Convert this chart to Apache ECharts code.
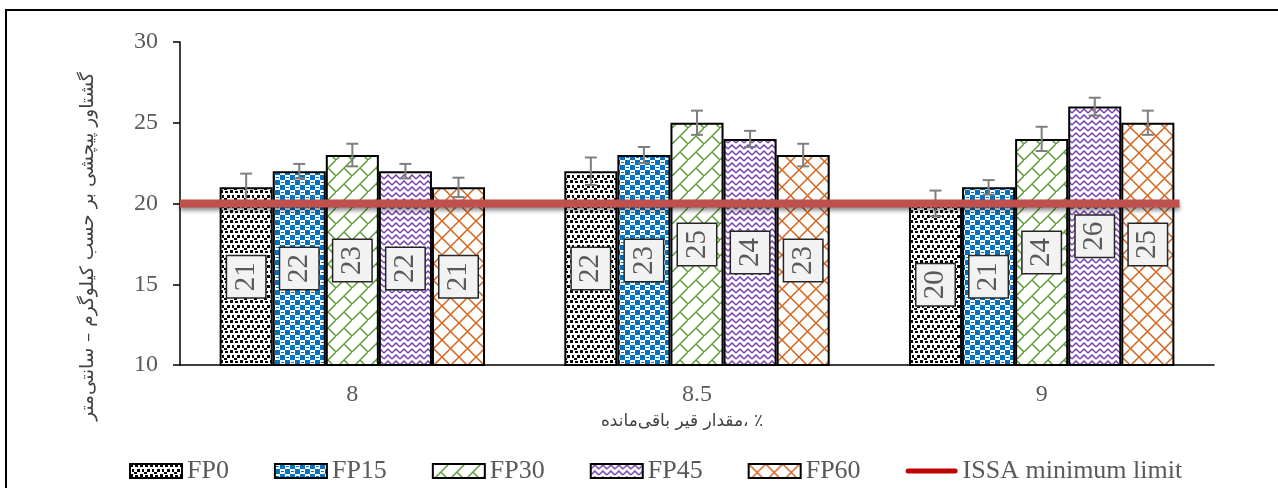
<!DOCTYPE html>
<html>
<head>
<meta charset="utf-8">
<script src="https://cdn.jsdelivr.net/npm/echarts@6/dist/echarts.min.js"></script>
<style>
  html, body { margin: 0; padding: 0; background: #fff; }
  #chart { width: 1278px; height: 488px; }
</style>
</head>
<body>
<div id="chart"></div>
<script>
// data
const categories = ["8", "8.5", "9"];
const seriesNames = ["FP0", "FP15", "FP30", "FP45", "FP60"];
const fp0 = [21, 22, 20];
const fp15 = [22, 23, 21];
const fp30 = [23, 25, 24];
const fp45 = [22, 24, 26];
const fp60 = [21, 23, 25];
const err0 = [0.85, 0.85, 0.8];
const err15 = [0.45, 0.5, 0.45];
const err30 = [0.7, 0.75, 0.75];
const err45 = [0.45, 0.5, 0.55];
const err60 = [0.6, 0.7, 0.75];
const limitName = "ISSA minimum limit";
const limitX = [0, 2.9];
const limitY = [20, 20];
const yTicks = [10, 15, 20, 25, 30];

const values = [fp0, fp15, fp30, fp45, fp60];
const errors = [err0, err15, err30, err45, err60];

const serif = "Liberation Serif";
const textGray = "#595959";
const gapRatio = 0.23;

function makePattern(w, h, draw) {
  const c = document.createElement("canvas");
  c.width = w;
  c.height = h;
  const ctx = c.getContext("2d");
  ctx.fillStyle = "#fff";
  ctx.fillRect(0, 0, w, h);
  draw(ctx);
  return { image: c, repeat: "repeat" };
}

const patterns = [
  // black confetti
  makePattern(10, 10, (ctx) => {
    ctx.fillStyle = "#000";
    [[0, 0, 3, 3], [5, 1, 3, 2], [2, 5, 2, 3], [7, 5, 3, 3], [4, 8, 3, 2]].forEach((r) =>
      ctx.fillRect(r[0], r[1], r[2], r[3])
    );
  }),
  // blue checker
  makePattern(10, 10, (ctx) => {
    ctx.fillStyle = "#0070c0";
    ctx.fillRect(0, 0, 10, 10);
    ctx.fillStyle = "#fff";
    ctx.fillRect(0, 0, 5, 5);
    ctx.fillRect(5, 5, 5, 5);
    ctx.fillStyle = "#0070c0";
    ctx.fillRect(1, 2, 3, 1);
    ctx.fillRect(6, 7, 3, 1);
  }),
  // green diagonal brick
  makePattern(16, 16, (ctx) => {
    ctx.strokeStyle = "#5e9c3a";
    ctx.lineWidth = 1.5;
    ctx.beginPath();
    ctx.moveTo(-1, 17);
    ctx.lineTo(17, -1);
    ctx.moveTo(8, 8);
    ctx.lineTo(17, 17);
    ctx.stroke();
  }),
  // purple zigzag
  makePattern(8, 6, (ctx) => {
    ctx.strokeStyle = "#7a3fb0";
    ctx.lineWidth = 1.5;
    ctx.beginPath();
    ctx.moveTo(0, 5);
    ctx.lineTo(4, 1);
    ctx.lineTo(8, 5);
    ctx.stroke();
  }),
  // orange lattice
  makePattern(17, 17, (ctx) => {
    ctx.strokeStyle = "#d4651e";
    ctx.lineWidth = 1.5;
    ctx.beginPath();
    ctx.moveTo(0, 0);
    ctx.lineTo(17, 17);
    ctx.moveTo(17, 0);
    ctx.lineTo(0, 17);
    ctx.stroke();
  }),
];

const myChart = echarts.init(document.getElementById("chart"));

const barSeries = seriesNames.map((name, i) => ({
  name: name,
  type: "bar",
  data: values[i],
  barGap: "0%",
  barCategoryGap: gapRatio * 100 + "%",
  itemStyle: {
    color: patterns[i],
    borderColor: "#000",
    borderWidth: 2,
  },
  label: {
    show: true,
    position: "inside",
    rotate: 90,
    fontFamily: serif,
    fontSize: 29,
    lineHeight: 24,
    color: textGray,
    backgroundColor: "#f2f2f2",
    borderColor: "#262626",
    borderWidth: 1.5,
    padding: [7, 6],
  },
  z: 2,
}));

const errorSeries = seriesNames.map((name, i) => ({
  type: "custom",
  name: name + " err",
  data: values[i].map((v, k) => [k, v, errors[i][k]]),
  encode: { x: 0, y: 1 },
  z: 5,
  silent: true,
  renderItem: (params, api) => {
    const band = api.size([1, 0])[0];
    const bw = (band * (1 - gapRatio)) / seriesNames.length;
    const off = (i - (seriesNames.length - 1) / 2) * bw;
    const v = api.value(1);
    const e = api.value(2);
    const top = api.coord([api.value(0), v + e]);
    const bot = api.coord([api.value(0), v - e]);
    const x = top[0] + off;
    const cap = 6;
    const style = { stroke: "#7f7f7f", lineWidth: 2 };
    return {
      type: "group",
      children: [
        { type: "line", shape: { x1: x, y1: top[1], x2: x, y2: bot[1] }, style },
        { type: "line", shape: { x1: x - cap, y1: top[1], x2: x + cap, y2: top[1] }, style },
        { type: "line", shape: { x1: x - cap, y1: bot[1], x2: x + cap, y2: bot[1] }, style },
      ],
    };
  },
}));

const limitSeries = {
  name: limitName,
  type: "line",
  xAxisIndex: 1,
  data: limitX.map((x, k) => [x, limitY[k]]),
  symbol: "none",
  silent: true,
  z: 10,
  lineStyle: {
    color: "#c0504d",
    width: 8,
    shadowColor: "rgba(0,0,0,0.45)",
    shadowBlur: 4,
    shadowOffsetY: 3,
  },
  itemStyle: { color: "#c00000" },
};

const option = {
  animation: false,
  grid: { left: 180, right: 64, top: 42, bottom: 123 },
  graphic: [
    {
      type: "rect",
      shape: { x: 6, y: 10, width: 1400, height: 700 },
      style: { fill: "none", stroke: "#000", lineWidth: 2 },
      silent: true,
    },
  ],
  legend: {
    left: 124,
    top: 453,
    itemWidth: 52,
    itemHeight: 14,
    itemGap: 45,
    textStyle: { fontFamily: serif, fontSize: 26, color: textGray },
    data: seriesNames
      .map((n) => ({ name: n, icon: "rect" }))
      .concat([
        {
          name: limitName,
          icon: "path://M2.5,0 L49.5,0 A2.5,2.5,0,0,1,49.5,5 L2.5,5 A2.5,2.5,0,0,1,2.5,0 Z",
          itemStyle: { color: "#c00000", borderWidth: 0 },
        },
      ]),
  },
  xAxis: [
    {
      type: "category",
      data: categories,
      name: "مقدار قیر باقی‌مانده، ٪",
      nameLocation: "middle",
      nameGap: 48,
      nameTextStyle: {
        fontFamily: "DejaVu Sans",
        fontSize: 17,
        color: "#404040",
        padding: [0, 30, 0, 0],
      },
      axisLine: { lineStyle: { color: "#000", width: 1.5 } },
      axisTick: { alignWithLabel: true, length: 6, lineStyle: { color: "#000", width: 1.5 } },
      axisLabel: { margin: 18, fontFamily: serif, fontSize: 24, color: textGray },
    },
    {
      type: "value",
      min: 0,
      max: 3,
      show: false,
    },
  ],
  yAxis: {
    type: "value",
    min: yTicks[0],
    max: yTicks[yTicks.length - 1],
    interval: yTicks[1] - yTicks[0],
    name: "گشتاور پیچشی بر حسب کیلوگرم – سانتی‌متر",
    nameLocation: "middle",
    nameGap: 82,
    nameTextStyle: {
      fontFamily: "DejaVu Sans",
      fontSize: 18.5,
      color: "#404040",
      padding: [0, 86, 0, 0],
    },
    axisLine: { show: true, lineStyle: { color: "#000", width: 1.5 } },
    axisTick: { show: true, length: 7, lineStyle: { color: "#000", width: 1.5 } },
    axisLabel: { margin: 22, fontFamily: serif, fontSize: 24, color: textGray },
    splitLine: { show: false },
  },
  series: barSeries.concat(errorSeries).concat([limitSeries]),
};

myChart.setOption(option);
</script>
</body>
</html>
